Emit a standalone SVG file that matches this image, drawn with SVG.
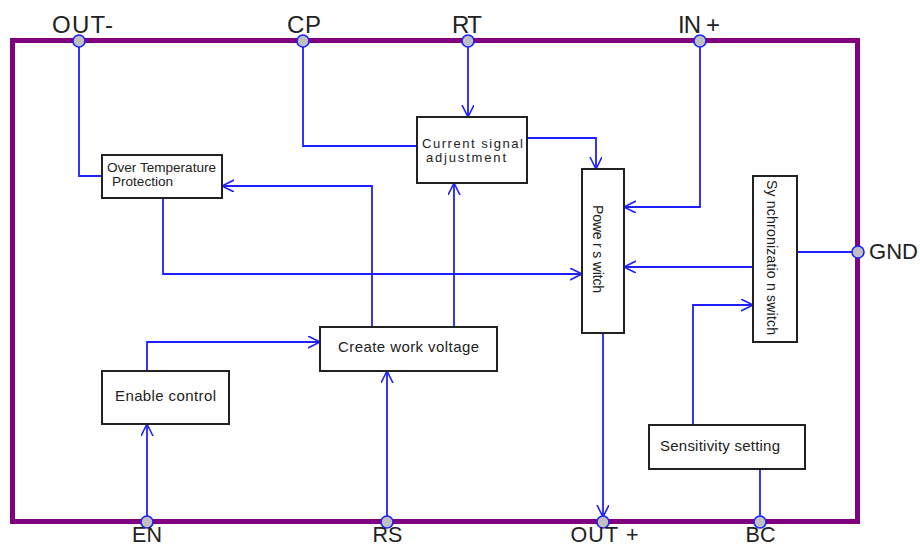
<svg xmlns="http://www.w3.org/2000/svg" width="920" height="547" viewBox="0 0 920 547">
<style>
.frame{fill:none;stroke:#800080;stroke-width:5}
.box{fill:#fff;stroke:#222;stroke-width:2}
.w{fill:none;stroke:#1f1fff;stroke-width:1.8}
.pin{fill:#c0c0c0;stroke:#1f1fff;stroke-width:1.6}
.pl{font-family:"Liberation Sans",Arial,sans-serif;font-size:24px;fill:#222}
.pb{font-family:"Liberation Sans",Arial,sans-serif;font-size:22px;fill:#222}
.pd{font-family:"Liberation Sans",Arial,sans-serif;font-size:21.5px;fill:#222;text-anchor:middle}
.bt{font-family:"Liberation Sans",Arial,sans-serif;font-size:15px;fill:#222}
.st{font-family:"Liberation Sans",Arial,sans-serif;font-size:12px;fill:#222}
.ct{font-family:"Liberation Sans",Arial,sans-serif;font-size:13px;fill:#222}
.rt{font-family:"Liberation Sans",Arial,sans-serif;font-size:14px;fill:#222}
</style>
<defs>
<marker id="a" markerWidth="14" markerHeight="14" refX="12" refY="6" orient="auto" markerUnits="userSpaceOnUse">
<path d="M0,0 L12,6 L0,12" fill="none" stroke="#1f1fff" stroke-width="1.6"/>
</marker>
</defs>
<rect width="920" height="547" fill="#fff"/>
<rect class="frame" x="12.5" y="40.5" width="845" height="481"/>

<g id="connectors">
<path class="w" d="M79,47 V176 H102"/>
<path class="w" d="M303,47 V146 H417"/>
<path class="w" d="M468,47 V117" marker-end="url(#a)"/>
<path class="w" d="M527,138 H596 V169" marker-end="url(#a)"/>
<path class="w" d="M700,47 V207 H624" marker-end="url(#a)"/>
<path class="w" d="M753,267 H624" marker-end="url(#a)"/>
<path class="w" d="M797,252 H852"/>
<path class="w" d="M693,425 V305 H753" marker-end="url(#a)"/>
<path class="w" d="M760,469 V516"/>
<path class="w" d="M603,333 V517" marker-end="url(#a)"/>
<path class="w" d="M163,198 V274 H582" marker-end="url(#a)"/>
<path class="w" d="M372,327 V186 H222" marker-end="url(#a)"/>
<path class="w" d="M454,327 V183" marker-end="url(#a)"/>
<path class="w" d="M147,371 V342 H320" marker-end="url(#a)"/>
<path class="w" d="M147,516 V424" marker-end="url(#a)"/>
<path class="w" d="M387,516 V371" marker-end="url(#a)"/>
</g>

<g id="pin-outm"><circle class="pin" cx="79" cy="41" r="6"/><text class="pl" x="52" y="33" textLength="61">OUT-</text></g>
<g id="pin-cp"><circle class="pin" cx="303" cy="41" r="6"/><text class="pl" x="287" y="33" textLength="34">CP</text></g>
<g id="pin-rt"><circle class="pin" cx="468" cy="41" r="6"/><text class="pl" x="452" y="33" textLength="30">RT</text></g>
<g id="pin-inp"><circle class="pin" cx="700" cy="41" r="6"/><text class="pl" x="678" y="33" textLength="42">IN +</text></g>
<g id="pin-gnd"><circle class="pin" cx="858" cy="252" r="6"/><text class="pb" x="869" y="259" textLength="49">GND</text></g>
<g id="pin-en"><circle class="pin" cx="147" cy="522" r="6"/><text class="pd" x="147" y="542">EN</text></g>
<g id="pin-rs"><circle class="pin" cx="387" cy="522" r="6"/><text class="pd" x="387.5" y="542">RS</text></g>
<g id="pin-outp"><circle class="pin" cx="603" cy="522" r="6"/><text class="pd" x="604.5" y="542" textLength="68">OUT +</text></g>
<g id="pin-bc"><circle class="pin" cx="760" cy="522" r="6"/><text class="pd" x="760.5" y="542">BC</text></g>

<g id="otp"><rect class="box" x="102" y="155" width="120" height="43"/>
<text class="st" x="107" y="172" textLength="109" lengthAdjust="spacingAndGlyphs">Over Temperature</text>
<text class="st" x="112" y="186" textLength="61" lengthAdjust="spacingAndGlyphs">Protection</text></g>

<g id="csa"><rect class="box" x="417" y="117" width="110" height="66"/>
<text class="ct" x="422" y="148" textLength="101">Current signal</text>
<text class="ct" x="426" y="162" textLength="80">adjustment</text></g>

<g id="psw"><rect class="box" x="582" y="169" width="42" height="164"/>
<text class="rt" transform="translate(593,205) rotate(90)" x="0" y="0" textLength="88">Powe r s witch</text></g>

<g id="ssw"><rect class="box" x="753" y="176" width="44" height="166"/>
<text class="rt" transform="translate(767,180) rotate(90)" x="0" y="0" textLength="155">Sy nchronizatio n switch</text></g>

<g id="cwv"><rect class="box" x="320" y="327" width="177" height="44"/>
<text class="bt" x="338" y="352" textLength="141">Create work voltage</text></g>

<g id="enc"><rect class="box" x="102" y="371" width="127" height="53"/>
<text class="bt" x="115" y="401" textLength="101">Enable control</text></g>

<g id="sens"><rect class="box" x="649" y="425" width="156" height="44"/>
<text class="bt" x="660" y="451" textLength="120">Sensitivity setting</text></g>
</svg>
